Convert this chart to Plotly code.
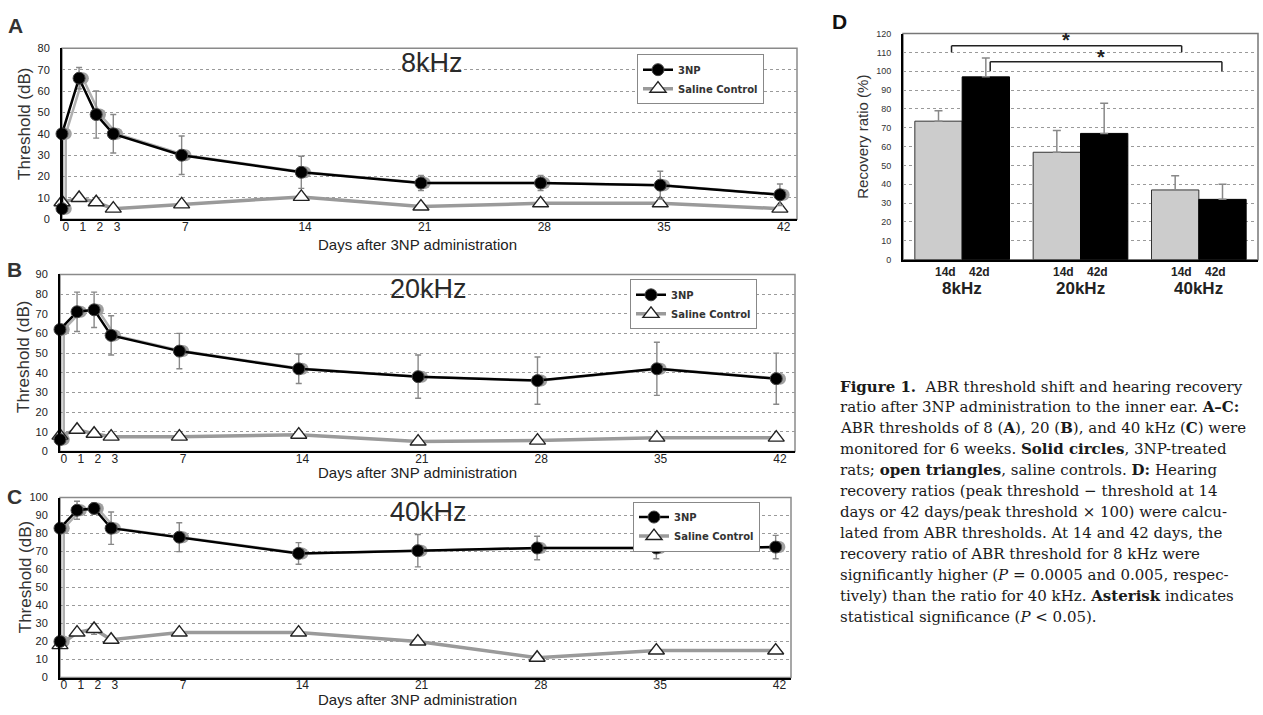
import plotly.graph_objects as go

W, H = 1263, 715

# ---------------- data ----------------
days_3np = [0, 0, 1, 2, 3, 7, 14, 21, 28, 35, 42]
days_saline = [0, 1, 2, 3, 7, 14, 21, 28, 35, 42]
x_tick_vals = [0, 1, 2, 3, 7, 14, 21, 28, 35, 42]

a_3np = [5, 40, 66, 49, 40, 30, 22, 17, 17, 16, 11.5]
a_3np_err = [0, 0, 5, 11, 9, 9, 7.5, 3.5, 3.5, 6.5, 5]
a_saline = [8, 10, 8, 5, 7, 10.5, 6, 7.5, 7.5, 5]

b_3np = [6, 62, 71, 72, 59, 51, 42, 38, 36, 42, 37]
b_3np_err = [0, 0, 10, 9, 10, 9, 7.5, 11, 12, 13.5, 13]
b_saline = [8, 11, 9, 7.5, 7.5, 8.5, 5, 5.5, 7, 7]

c_3np = [20, 83, 93, 94, 83, 78, 69, 70.5, 72, 72, 72.5]
c_3np_err = [0, 0, 5, 3, 9, 8, 6, 9, 6.5, 6, 6.5]
c_saline = [18, 25, 27, 21, 25, 25, 20, 11, 15, 15]
c_saline_err = [0, 0, 3, 0, 0, 0, 0, 0, 0, 0]

freq_groups = ["8kHz", "20kHz", "40kHz"]
group_pos = [0, 1, 2]
ratio_14d = [73.5, 57, 37]
ratio_14d_err = [5.5, 11.5, 7.5]
ratio_42d = [97, 67, 32]
ratio_42d_err = [10, 16, 8]

panel_titles = ["8kHz", "20kHz", "40kHz"]
y_max = [80, 90, 100]

caption_lines = [
    "<b>Figure 1.</b>  ABR threshold shift and hearing recovery",
    "ratio after 3NP administration to the inner ear. <b>A–C:</b>",
    "ABR thresholds of 8 (<b>A</b>), 20 (<b>B</b>), and 40 kHz (<b>C</b>) were",
    "monitored for 6 weeks. <b>Solid circles</b>, 3NP-treated",
    "rats; <b>open triangles</b>, saline controls. <b>D:</b> Hearing",
    "recovery ratios (peak threshold − threshold at 14",
    "days or 42 days/peak threshold × 100) were calcu-",
    "lated from ABR thresholds. At 14 and 42 days, the",
    "recovery ratio of ABR threshold for 8 kHz were",
    "significantly higher (<i>P</i> = 0.0005 and 0.005, respec-",
    "tively) than the ratio for 40 kHz. <b>Asterisk</b> indicates",
    "statistical significance (<i>P</i> &lt; 0.05).",
]

# ---------------- helpers ----------------
def fx(p):
    return p / W


def fy(p):
    return 1 - p / H


def note(text, x, y, size, color="#222", family="Arial", **kw):
    d = dict(text=text, x=fx(x), y=fy(y), xref="paper", yref="paper",
             showarrow=False, xanchor="center", yanchor="middle",
             font=dict(family=family, size=size, color=color))
    d.update(kw)
    return d


fig = go.Figure()

# panel geometry in pixels: (left, right, top, bottom, xmax)
panels = [
    (62, 797, 43, 217, 43.0),
    (60, 795, 273, 453, 43.1),
    (60, 791, 500, 683, 42.9),
]
line_data = [(a_3np, a_3np_err, a_saline, None),
             (b_3np, b_3np_err, b_saline, None),
             (c_3np, c_3np_err, c_saline, c_saline_err)]
legend_pos = [(637, 49), (630, 278), (633, 504)]
title_pos = [(432, 58), (428, 288), (428, 515)]
letter_pos = [("A", 15, 20), ("B", 14, 268), ("C", 14, 499)]
xtitle_y = [243, 474, 705]
ytitle_pos = [(25, 120), (23, 357), (25, 581)]
ghost_shift = 0.22  # faint offset print ghost, in days

annotations = []
shapes = []
layout_axes = {}

for i, (l, r, t, b, xmax) in enumerate(panels):
    n = i + 1
    xa = "x" if n == 1 else f"x{n}"
    ya = "y" if n == 1 else f"y{n}"
    rx = f"x{n + 4}"   # overlay axis holding the crisp data layer
    leg = "legend" if n == 1 else f"legend{n}"
    s3, e3, ss, se = line_data[i]

    # grey print ghost of the 3NP series (on the base axis, drawn first)
    fig.add_trace(go.Scatter(
        x=days_3np, y=s3, xaxis=xa, yaxis=ya, showlegend=False, hoverinfo="skip",
        mode="lines+markers", cliponaxis=False,
        line=dict(color="#b0b0b0", width=2.5),
        marker=dict(symbol="circle", size=12, color="#a0a0a0"),
    ))
    fig.add_trace(go.Scatter(
        x=days_saline, y=ss, xaxis=rx, yaxis=ya, name="<b>Saline Control</b>",
        mode="lines+markers", legend=leg, cliponaxis=False,
        line=dict(color="#9a9a9a", width=3.5),
        marker=dict(symbol="triangle-up", size=14, color="white",
                    line=dict(color="#222", width=1.4)),
        error_y=dict(type="data", array=se, color="#888", thickness=1.3, width=3,
                     visible=se is not None),
    ))
    fig.add_trace(go.Scatter(
        x=days_3np, y=s3, xaxis=rx, yaxis=ya, name="<b>3NP</b>",
        mode="lines+markers", legend=leg, cliponaxis=False,
        line=dict(color="black", width=2.5),
        marker=dict(symbol="circle", size=12, color="black",
                    line=dict(color="#444", width=1)),
        error_y=dict(type="data", array=e3, color="#888", thickness=1.4, width=3),
    ))

    layout_axes["xaxis" if n == 1 else f"xaxis{n}"] = dict(
        domain=[fx(l), fx(r)], range=[-ghost_shift, xmax - ghost_shift], anchor=ya,
        tickvals=x_tick_vals, ticktext=[str(v) for v in x_tick_vals],
        tickfont=dict(family="Arial", size=12, color="#222"),
        showgrid=False, zeroline=False, showline=True,
        linecolor="black", linewidth=2, ticks="", ticklabelstandoff=-5,
    )
    layout_axes[f"xaxis{n + 4}"] = dict(
        domain=[fx(l), fx(r)], range=[0, xmax],
        anchor=ya, overlaying=xa, visible=False,
    )
    layout_axes["yaxis" if n == 1 else f"yaxis{n}"] = dict(
        domain=[fy(b), fy(t)], range=[0, y_max[i]], anchor=xa, dtick=10,
        tickfont=dict(family="Arial", size=11, color="#222"),
        showgrid=True, gridcolor="#9a9a9a", griddash="dot", gridwidth=1,
        zeroline=False, showline=True, linecolor="black", linewidth=2,
        ticks="", ticklabelstandoff=8,
    )
    shapes.append(dict(type="rect", xref=f"{xa} domain", yref=f"{ya} domain",
                       x0=0, x1=1, y0=0, y1=1, layer="below",
                       line=dict(color="#8a8a8a", width=1.5)))

    lx, ly = legend_pos[i]
    layout_axes[leg] = dict(
        x=fx(lx), y=fy(ly), xanchor="left", yanchor="top",
        bgcolor="white", bordercolor="#888", borderwidth=1,
        font=dict(family="DejaVu Sans", size=10, color="#333"),
        traceorder="reversed", tracegroupgap=0,
    )

    tx, ty = title_pos[i]
    annotations.append(note(panel_titles[i], tx, ty, 27, "#2a2a2a"))
    lt, lxp, lyp = letter_pos[i]
    annotations.append(note(f"<b>{lt}</b>", lxp, lyp, 21, "#333"))
    annotations.append(note("Days after 3NP administration", 418, xtitle_y[i], 15))
    yx, yy = ytitle_pos[i]
    annotations.append(note("Threshold (dB)", yx, yy, 17, "#333", textangle=-90))

# ---------------- panel D ----------------
fig.add_trace(go.Bar(
    x=group_pos, y=ratio_14d, xaxis="x4", yaxis="y4", name="14d", showlegend=False,
    marker=dict(color="#cccccc", line=dict(color="#333", width=1)),
    error_y=dict(type="data", array=ratio_14d_err, arrayminus=[0, 0, 0],
                 symmetric=False, color="#888", thickness=1.5, width=4),
))
fig.add_trace(go.Bar(
    x=group_pos, y=ratio_42d, xaxis="x4", yaxis="y4", name="42d", showlegend=False,
    marker=dict(color="black", line=dict(color="black", width=1)),
    error_y=dict(type="data", array=ratio_42d_err, arrayminus=[0, 0, 0],
                 symmetric=False, color="#888", thickness=1.5, width=4),
))

layout_axes["xaxis4"] = dict(domain=[fx(903), fx(1258)], range=[-0.5, 2.5],
                             anchor="y4", showticklabels=False, showgrid=False,
                             zeroline=False, showline=True, linecolor="black",
                             linewidth=2, ticks="")
layout_axes["yaxis4"] = dict(domain=[fy(258), fy(28)], range=[0, 120], dtick=10,
                             anchor="x4", tickfont=dict(family="Arial", size=9,
                                                        color="#333"),
                             showgrid=True, gridcolor="#9a9a9a", griddash="dot",
                             zeroline=False, showline=True, linecolor="black",
                             linewidth=2, ticks="", ticklabelstandoff=8)
shapes.append(dict(type="rect", xref="x4 domain", yref="y4 domain", x0=0, x1=1,
                   y0=0, y1=1, layer="below", line=dict(color="#777", width=1.5)))

off = 0.145
for gi, g in enumerate(group_pos):
    for lab, o in (("14d", -off), ("42d", off)):
        annotations.append(dict(text=f"<b>{lab}</b>", x=g + o, y=fy(271), xref="x4",
                                yref="paper", showarrow=False, xanchor="center",
                                yanchor="middle",
                                font=dict(family="Arial", size=12, color="#222")))
    annotations.append(dict(text=f"<b>{freq_groups[gi]}</b>", x=g, y=fy(287),
                            xref="x4", yref="paper", showarrow=False,
                            xanchor="center", yanchor="middle",
                            font=dict(family="Arial", size=17, color="#222")))

# significance brackets (14d 8kHz vs 14d 40kHz; 42d 8kHz vs 42d 40kHz)
sig_brackets = [(-0.09, 1.855, 113.5, 110, 0.88, 116.5),
                (0.237, 2.195, 105, 100, 1.175, 107.8)]
for x0, x1, ytop, yend, sx, sy in sig_brackets:
    for seg in ((x0, yend, x0, ytop), (x0, ytop, x1, ytop), (x1, ytop, x1, yend)):
        shapes.append(dict(type="line", xref="x4", yref="y4", x0=seg[0], y0=seg[1],
                           x1=seg[2], y1=seg[3], line=dict(color="#222", width=1.5)))
    annotations.append(dict(text="<b>*</b>", x=sx, y=sy, xref="x4", yref="y4",
                            showarrow=False, xanchor="center", yanchor="middle",
                            font=dict(family="Arial", size=20, color="#222")))

annotations.append(note("<b>D</b>", 839, 16, 21, "#111"))
annotations.append(note("Recovery ratio (%)", 863, 133, 15, "#333", textangle=-90))

# caption
for k, line in enumerate(caption_lines):
    annotations.append(note(line, 838, 387 + 21.35 * k, 15, "#1a1a1a",
                            family="DejaVu Serif", xanchor="left", align="left"))

fig.update_layout(
    width=W, height=H, margin=dict(l=0, r=0, t=0, b=0),
    paper_bgcolor="white", plot_bgcolor="white",
    annotations=annotations, shapes=shapes, **layout_axes,
)

fig.write_html("out.html", config={"displayModeBar": False},
               post_script="document.body.style.margin='0';")
